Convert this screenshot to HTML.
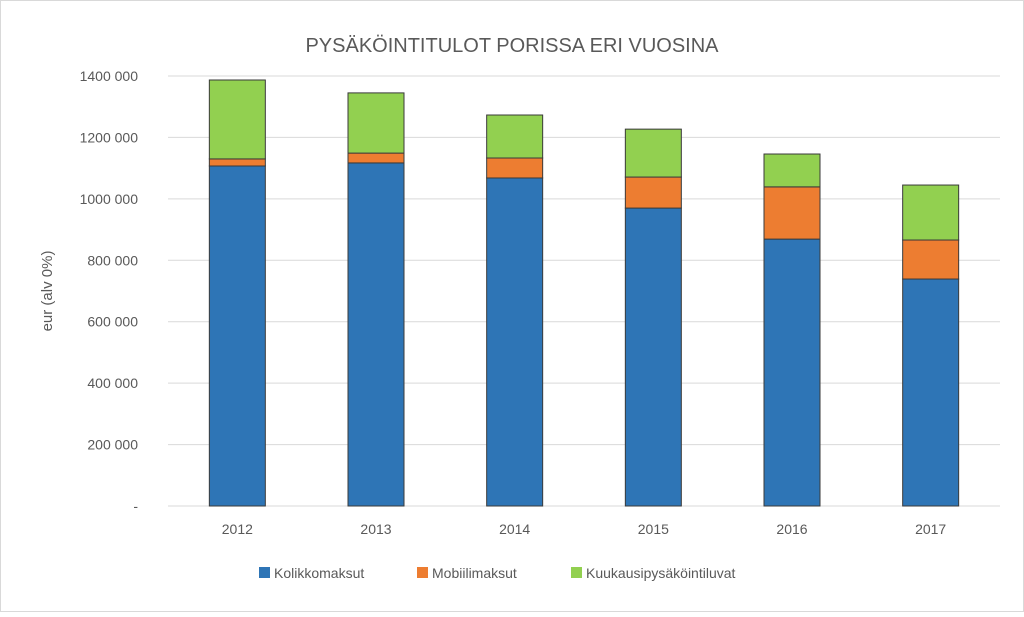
<!DOCTYPE html>
<html><head><meta charset="utf-8"><style>
body{margin:0;background:#fff;font-family:"Liberation Sans",sans-serif;}
svg text{font-family:"Liberation Sans",sans-serif;fill:#595959;}
</style></head><body>
<svg width="1024" height="612" xmlns="http://www.w3.org/2000/svg">
<rect x="0.5" y="0.5" width="1023" height="611" fill="#fff" stroke="#d9d9d9"/>
<text x="512" y="52" font-size="20" text-anchor="middle">PYSÄKÖINTITULOT PORISSA ERI VUOSINA</text>
<text transform="translate(52,291) rotate(-90)" font-size="15" text-anchor="middle">eur (alv 0%)</text>
<g id="grid"></g><g id="bars"></g><g id="xl"></g>
<g>
<rect x="259" y="567" width="11" height="11" fill="#2e75b6"/>
<text x="274" y="578" font-size="14">Kolikkomaksut</text>
<rect x="417" y="567" width="11" height="11" fill="#ed7d31"/>
<text x="432" y="578" font-size="14">Mobiilimaksut</text>
<rect x="571" y="567" width="11" height="11" fill="#92d050"/>
<text x="586" y="578" font-size="14">Kuukausipysäköintiluvat</text>
</g>
</svg>
<script>
const categories=["2012","2013","2014","2015","2016","2017"];
const kolikko=[1107000,1117000,1068000,970000,869000,739000];
const mobiili=[23000,32000,65000,101000,170000,127000];
const kuukausi=[257000,196000,140000,156000,107000,179000];
const ticks=[0,200000,400000,600000,800000,1000000,1200000,1400000];
const tickLabels=["-","200 000","400 000","600 000","800 000","1000 000","1200 000","1400 000"];
const NS="http://www.w3.org/2000/svg";
const x0=168,x1=1000,y0=506,yTop=76,maxV=1400000;
const y=v=>y0-(v/maxV)*(y0-yTop);
const band=(x1-x0)/categories.length;
const xc=i=>x0+band*(i+0.5);
function mk(t,a,p){const e=document.createElementNS(NS,t);for(const k in a)e.setAttribute(k,a[k]);p.appendChild(e);return e;}
const g=document.getElementById('grid');
ticks.forEach((t,i)=>{
 const l=mk('line',{x1:x0,x2:x1,y1:y(t),y2:y(t),stroke:'#d9d9d9','stroke-width':1},g);
 
 
 const tx=mk('text',{x:138,y:y(t)+5,'font-size':14,'text-anchor':'end'},g);
 tx.textContent=tickLabels[i];
 
 
});
const b=document.getElementById('bars');
const series=[[kolikko,'#2e75b6','kolikko'],[mobiili,'#ed7d31','mobiili'],[kuukausi,'#92d050','kuukausi']];
const bw=56;
categories.forEach((c,i)=>{
 let base=0;
 series.forEach(([arr,col,nm])=>{
  const top=base+arr[i];
  const r=mk('rect',{x:xc(i)-bw/2,y:y(top),width:bw,height:y(base)-y(top),fill:col,stroke:'#3a3a3a','stroke-width':1},b);
  
  
  base=top;
 });
 const t=mk('text',{x:xc(i),y:534,'font-size':14,'text-anchor':'middle'},document.getElementById('xl'));
 t.textContent=c;
 
 
});
</script>
</body></html>
